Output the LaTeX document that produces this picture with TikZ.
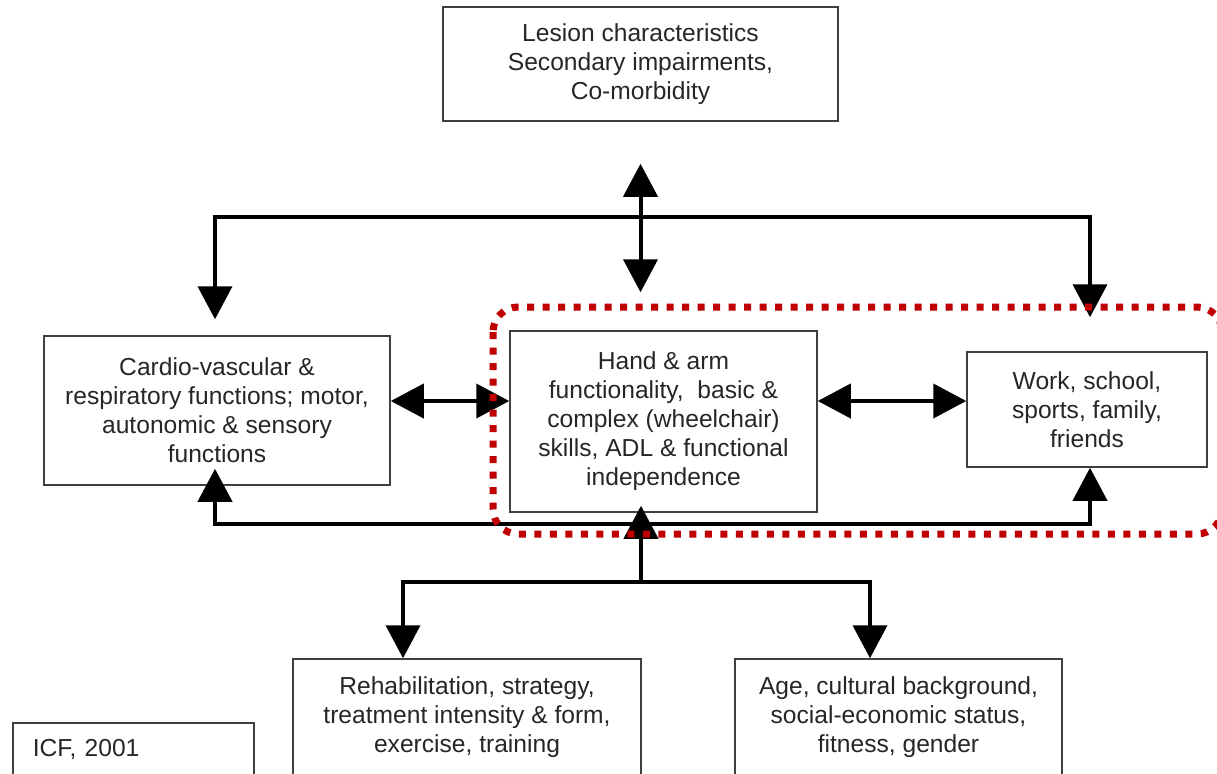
\documentclass[tikz,border=0pt]{standalone}
\usepackage{fontspec}
\setmainfont{Liberation Sans}
\usepackage{tikz}
\usetikzlibrary{arrows.meta}
\definecolor{framered}{HTML}{C00000}
\tikzset{
    box/.style={rectangle, draw=black!75, line width=0.03cm, align=center, text=black!85,
        font=\fontsize{14pt}{16.5pt}\selectfont, inner sep=0mm}
}
\tikzset{
    flow/.style={line width=0.08cm, >={Triangle[width=0.68cm, length=0.66cm]}},
    dotframe/.style={draw=framered, line width=0.14cm, dash pattern=on 0.14cm off 0.17cm,
        rounded corners=0.5cm}
}

\begin{document}
\begin{tikzpicture}
    \clip (0cm, 0cm) rectangle (24.34cm, -15.46cm);

    \node (lesion) [box, minimum width=7.9cm, minimum height=2.28cm] at (12.81cm, -1.28cm)
        {Lesion characteristics\\Secondary impairments,\\Co-morbidity};
    \node (cardio) [box, minimum width=6.92cm, minimum height=2.98cm] at (4.34cm, -8.21cm)
        {Cardio-vascular \&\\respiratory functions; motor,\\autonomic \& sensory\\functions};
    \node (hand) [box, minimum width=6.14cm, minimum height=3.62cm] at (13.27cm, -8.43cm)
        {Hand \& arm\\functionality,\ \ basic \&\\complex (wheelchair)\\skills, ADL \& functional\\independence};
    \node (work) [box, minimum width=4.8cm, minimum height=2.3cm] at (21.74cm, -8.19cm)
        {Work, school,\\sports, family,\\friends};
    \node (rehab) [box, minimum width=6.96cm, minimum height=2.32cm] at (9.34cm, -14.34cm)
        {Rehabilitation, strategy,\\treatment intensity \& form,\\exercise, training};
    \node (age) [box, minimum width=6.54cm, minimum height=2.32cm] at (17.97cm, -14.34cm)
        {Age, cultural background,\\social-economic status,\\fitness, gender};
    \node (icf) [box, anchor=west, align=left, inner xsep=0.4cm, text width=4.02cm,
        minimum height=1.04cm] at (0.24cm, -14.98cm) {ICF, 2001};

    \coordinate (busTL) at (4.3cm, -4.34cm);
    \coordinate (busTR) at (21.8cm, -4.34cm);
    \coordinate (busBL) at (4.3cm, -10.48cm);
    \coordinate (busBR) at (21.8cm, -10.48cm);
    \coordinate (row) at (0cm, -8.02cm);
    \coordinate (hub) at (12.82cm, -11.64cm);
    \coordinate (lowL) at (8.06cm, -11.64cm);
    \coordinate (lowR) at (17.4cm, -11.64cm);

    % top
    \draw [flow, <->, shorten <=0.84cm, shorten >=0.76cm] (lesion.south) -- (lesion.south |- hand.north);
    \draw [flow, <->, shorten <=0.32cm, shorten >=0.68cm]
        (busTL |- cardio.north) -- (busTL) -- (busTR) -- (busTR |- work.north);

    % middle row
    \draw [flow, <->] (cardio.east |- row) -- (hand.west |- row);
    \draw [flow, <->] (hand.east |- row) -- (work.west |- row);

    % bottom
    \draw [flow, <->, shorten <=-0.34cm] (busBL |- cardio.south) -- (busBL) -- (busBR) -- (busBR |- work.south);
    \draw [flow, ->, shorten >=-0.14cm] (hub) -- (hub |- hand.south);
    \draw [flow, <->] (lowL |- rehab.north) -- (lowL) -- (lowR) -- (lowR |- age.north);

    \draw [dotframe] (9.86cm, -6.14cm) rectangle (24.44cm, -10.68cm);
\end{tikzpicture}
\end{document}
